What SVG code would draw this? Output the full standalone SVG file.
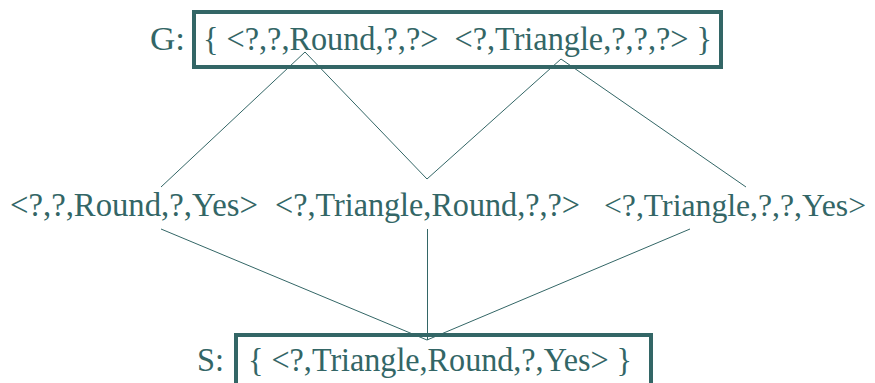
<svg xmlns="http://www.w3.org/2000/svg" width="875" height="383" viewBox="0 0 875 383">
<style>
text{font-family:"Liberation Serif","Times New Roman",serif;font-size:34px;fill:#336666}
.box{fill:none;stroke:#336666;stroke-width:4}
.ln{fill:none;stroke:#336666;stroke-width:1}
</style>
<rect width="875" height="383" fill="#ffffff"/>
<g id="connectors">
<polyline class="ln" points="161,187 305,52 427,179 561,59 746,187"/>
<polyline class="ln" points="161,229 427,340 690,229"/>
<line class="ln" x1="427.5" y1="229" x2="427.5" y2="340"/>
</g>
<g id="G">
<text x="150" y="50" textLength="35" lengthAdjust="spacingAndGlyphs">G:</text>
<rect class="box" x="194" y="12" width="527" height="55"/>
<text x="203" y="50" textLength="509" lengthAdjust="spacingAndGlyphs" xml:space="preserve">{ &lt;?,?,Round,?,?&gt;  &lt;?,Triangle,?,?,?&gt; }</text>
</g>
<g id="n1"><text x="10" y="216" textLength="248" lengthAdjust="spacingAndGlyphs">&lt;?,?,Round,?,Yes&gt;</text></g>
<g id="n2"><text x="275" y="216" textLength="305" lengthAdjust="spacingAndGlyphs">&lt;?,Triangle,Round,?,?&gt;</text></g>
<g id="n3"><text x="604" y="216" style="font-size:32px" textLength="262" lengthAdjust="spacingAndGlyphs">&lt;?,Triangle,?,?,Yes&gt;</text></g>
<g id="S">
<text x="197" y="371" textLength="27" lengthAdjust="spacingAndGlyphs">S:</text>
<rect class="box" x="236" y="335" width="415" height="60"/>
<text x="248" y="371" textLength="384" lengthAdjust="spacingAndGlyphs">{ &lt;?,Triangle,Round,?,Yes&gt; }</text>
</g>
</svg>
